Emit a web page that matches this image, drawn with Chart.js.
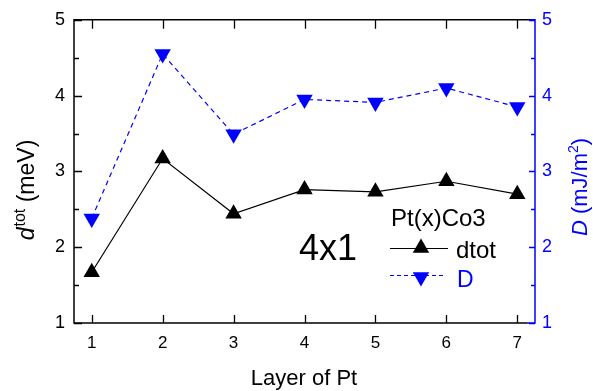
<!DOCTYPE html>
<html>
<head>
<meta charset="utf-8">
<script src="https://cdn.jsdelivr.net/npm/chart.js@4/dist/chart.umd.min.js"></script>
<style>
html,body{margin:0;padding:0;background:#fff;}
#wrap{width:593px;height:391px;}
</style>
</head>
<body>
<div id="wrap"><canvas id="c" width="593" height="391"></canvas></div>
<script>
const layers = [1, 2, 3, 4, 5, 6, 7];
const dtot = [1.67, 3.17, 2.44, 2.76, 2.73, 2.87, 2.70];
const D = [2.38, 4.55, 3.49, 3.95, 3.91, 4.10, 3.85];
const xTicks = [1, 2, 3, 4, 5, 6, 7];
const yTicks = [1, 2, 3, 4, 5];
const yMinor = [1.5, 2.5, 3.5, 4.5];
const BLUE = '#0000ff';
const FONT = '"Liberation Sans", Arial, sans-serif';

function tri(ctx, x, y, r, down) {
  ctx.beginPath();
  const s = down ? -1 : 1;
  ctx.moveTo(x, y - s * r);
  ctx.lineTo(x + r * Math.sqrt(3) / 2, y + s * r / 2);
  ctx.lineTo(x - r * Math.sqrt(3) / 2, y + s * r / 2);
  ctx.closePath();
  ctx.fill();
}

function rotText(ctx, cx, cy, parts, color) {
  ctx.save();
  ctx.translate(cx, cy);
  ctx.rotate(-Math.PI / 2);
  ctx.fillStyle = color;
  ctx.textAlign = 'left';
  ctx.textBaseline = 'alphabetic';
  let tw = 0;
  parts.forEach(p => { ctx.font = p[0]; tw += ctx.measureText(p[1]).width + (p[3] || 0); });
  let x0 = -tw / 2;
  parts.forEach(p => { ctx.font = p[0]; ctx.fillText(p[1], x0, p[2]); x0 += ctx.measureText(p[1]).width + (p[3] || 0); });
  ctx.restore();
}

const decor = {
  id: 'decor',
  afterDraw(chart) {
    const ctx = chart.ctx;
    const a = chart.chartArea;
    const xs = chart.scales.x, yl = chart.scales.y, yr = chart.scales.y2;
    ctx.save();
    ctx.lineWidth = 1.5;
    ctx.strokeStyle = '#000';
    ctx.beginPath();
    ctx.moveTo(a.right, a.top); ctx.lineTo(a.left, a.top); ctx.lineTo(a.left, a.bottom); ctx.lineTo(a.right - 8, a.bottom);
    ctx.stroke();
    ctx.lineWidth = 1.3;
    ctx.beginPath();
    xTicks.forEach(v => {
      const px = Math.round(xs.getPixelForValue(v)) + 0.5;
      ctx.moveTo(px, a.bottom); ctx.lineTo(px, a.bottom - 8);
      ctx.moveTo(px, a.top); ctx.lineTo(px, a.top + 9);
    });
    yTicks.forEach(v => {
      const py = Math.round(yl.getPixelForValue(v)) + 0.5;
      ctx.moveTo(a.left, py); ctx.lineTo(a.left + 8, py);
    });
    yMinor.forEach(v => {
      const py = Math.round(yl.getPixelForValue(v)) + 0.5;
      ctx.moveTo(a.left, py); ctx.lineTo(a.left + 5, py);
    });
    ctx.stroke();
    ctx.strokeStyle = BLUE;
    ctx.lineWidth = 1.5;
    ctx.beginPath();
    ctx.moveTo(a.right - 8, a.bottom); ctx.lineTo(a.right, a.bottom); ctx.lineTo(a.right, a.top); ctx.lineTo(a.right - 4, a.top);
    ctx.stroke();
    ctx.lineWidth = 1.3;
    ctx.beginPath();
    yTicks.forEach(v => {
      const py = Math.round(yr.getPixelForValue(v)) + 0.5;
      ctx.moveTo(a.right, py); ctx.lineTo(a.right - 6, py);
    });
    yMinor.forEach(v => {
      const py = Math.round(yr.getPixelForValue(v)) + 0.5;
      ctx.moveTo(a.right, py); ctx.lineTo(a.right - 4, py);
    });
    ctx.stroke();

    ctx.fillStyle = '#000';
    ctx.font = '22px ' + FONT;
    ctx.textAlign = 'center';
    ctx.textBaseline = 'alphabetic';
    ctx.fillText('Layer of Pt', 304, 385);

    rotText(ctx, 34, 190, [
      ['italic 23px ' + FONT, 'd', 0, 1],
      ['16px ' + FONT, 'tot', -9, 0],
      ['23px ' + FONT, ' (meV)', 0, 0]
    ], '#000');
    rotText(ctx, 587, 187, [
      ['italic 22px ' + FONT, 'D', 0, 0],
      ['22px ' + FONT, ' (mJ/m', 0, 0],
      ['14px ' + FONT, '2', -9, 0],
      ['22px ' + FONT, ')', 0, 0]
    ], BLUE);

    ctx.fillStyle = '#000';
    ctx.font = '36px ' + FONT;
    ctx.textAlign = 'left';
    ctx.fillText('4x1', 299, 260);

    ctx.font = '24px ' + FONT;
    ctx.fillText('Pt(x)Co3', 391, 226);
    ctx.strokeStyle = '#000';
    ctx.lineWidth = 1.2;
    ctx.setLineDash([]);
    ctx.beginPath();
    ctx.moveTo(390, 248.5); ctx.lineTo(448, 248.5);
    ctx.stroke();
    tri(ctx, 421, 248, 9.5, false);
    ctx.fillText('dtot', 456, 258);
    ctx.strokeStyle = BLUE;
    ctx.fillStyle = BLUE;
    ctx.setLineDash([4, 3]);
    ctx.beginPath();
    ctx.moveTo(390, 275.5); ctx.lineTo(446, 275.5);
    ctx.stroke();
    ctx.setLineDash([]);
    tri(ctx, 421, 277, 9.5, true);
    ctx.font = '23px ' + FONT;
    ctx.fillText('D', 457, 287);
    ctx.restore();
  }
};

new Chart(document.getElementById('c'), {
  type: 'line',
  data: {
    datasets: [
      {
        label: 'dtot',
        data: layers.map((x, i) => ({x: x, y: dtot[i]})),
        yAxisID: 'y',
        borderColor: '#000',
        backgroundColor: '#000',
        borderWidth: 1.2,
        pointStyle: 'triangle',
        pointRadius: 9.5,
        pointHoverRadius: 9.5,
        pointBorderWidth: 0,
        tension: 0
      },
      {
        label: 'D',
        data: layers.map((x, i) => ({x: x, y: D[i]})),
        yAxisID: 'y2',
        borderColor: BLUE,
        backgroundColor: BLUE,
        borderWidth: 1.2,
        borderDash: [5, 4],
        pointStyle: 'triangle',
        pointRotation: 180,
        pointRadius: 9.5,
        pointHoverRadius: 9.5,
        pointBorderWidth: 0,
        tension: 0
      }
    ]
  },
  options: {
    responsive: false,
    animation: false,
    events: [],
    layout: {padding: {top: 15, left: 0, right: 0, bottom: 0}},
    plugins: {legend: {display: false}, tooltip: {enabled: false}},
    scales: {
      x: {
        type: 'linear', min: 0.75, max: 7.25,
        afterBuildTicks: s => { s.ticks = xTicks.map(v => ({value: v})); },
        afterFit: s => { s.height = 68; },
        grid: {display: false, drawTicks: false},
        border: {display: false},
        ticks: {color: '#000', font: {family: FONT, size: 17}, padding: 10}
      },
      y: {
        position: 'left', min: 1, max: 5,
        afterBuildTicks: s => { s.ticks = yTicks.map(v => ({value: v})); },
        afterFit: s => { s.width = 74; },
        grid: {display: false, drawTicks: false},
        border: {display: false},
        ticks: {color: '#000', font: {family: FONT, size: 18}, padding: 9}
      },
      y2: {
        position: 'right', min: 1, max: 5,
        afterBuildTicks: s => { s.ticks = yTicks.map(v => ({value: v})); },
        afterFit: s => { s.width = 58; },
        grid: {display: false, drawTicks: false},
        border: {display: false},
        ticks: {color: BLUE, font: {family: FONT, size: 18}, padding: 7}
      }
    }
  },
  plugins: [decor]
});
</script>
</body>
</html>
